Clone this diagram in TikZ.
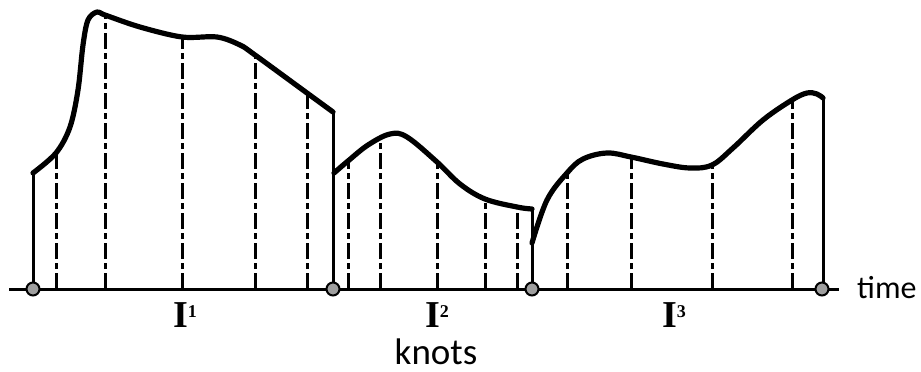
\documentclass[tikz,border=0pt]{standalone}
\usepackage{fontspec}
\setmainfont{Liberation Serif}
\newfontfamily\lblfont{Carlito}
\newfontfamily\supfont{Liberation Serif}
\newcommand{\supnum}[1]{\raisebox{10pt}{\supfont\bfseries\fontsize{18}{18}\selectfont #1}}
\begin{document}
\begin{tikzpicture}[x=1pt,y=-1pt,
  curve/.style={line width=5.2pt,line join=round,line cap=round},
  solidv/.style={line width=3pt},
  dashv/.style={line width=3pt,dash pattern=on 16pt off 4pt on 6pt off 4pt},
  knot/.style={circle,draw=black,fill=gray!75,line width=2pt,inner sep=0pt,minimum size=13pt},
  ilabel/.style={font=\fontsize{38}{38}\selectfont\bfseries,inner sep=0pt},
  word/.style={font=\lblfont\fontsize{37}{37}\selectfont,inner sep=0pt},
  word2/.style={font=\lblfont\fontsize{32}{32}\selectfont,inner sep=0pt}]
\useasboundingbox (0,0) rectangle (921,372);
% axis
\coordinate (a0) at (9,289);
\coordinate (a1) at (839,289);
\draw[solidv] (a0) -- (a1);
% dashed verticals
\foreach \x/\y in {56/153,105/15,182/37,255/55,307/93,348/162,380/140,437/162,485/199,517/207,567/173,631/157,712/165,792/100}
  \draw[dashv] (\x,289) -- (\x,\y);
% solid verticals
\draw[solidv] (33,289) -- (33,172);
\draw[solidv] (333,289) -- (333,112);
\draw[solidv] (532,289) -- (532,208);
\draw[solidv] (823,289) -- (823,97);
% curves
\draw[curve] plot[smooth,tension=0.55] coordinates {(33,173) (56,153) (70,127) (78,90) (83,45) (88,20) (97,12) (105,15) (140,27) (182,37) (217,37) (240,45) (255,55) (307,93) (333,112)};
\draw[curve] plot[smooth,tension=0.6] coordinates {(334,173) (348,161) (368,145) (390,134) (407,137) (437,162) (460,184) (485,199) (517,207) (532,209)};
\draw[curve] plot[smooth,tension=0.6] coordinates {(532,243) (547,200) (567,173) (583,159) (607,153) (631,157) (663,164) (690,168) (712,165) (733,148) (763,120) (792,100) (807,93) (817,94) (823,98)};
% knots
\node[knot] (k1) at (33,289) {};
\node[knot] (k2) at (333,289) {};
\node[knot] (k3) at (532,289) {};
\node[knot] (k4) at (822,289) {};
% labels
\node[ilabel,anchor=base] (i1) at (185,327) {I\supnum{1}};
\node[ilabel,anchor=base] (i2) at (437,327) {I\supnum{2}};
\node[ilabel,anchor=base] (i3) at (674,327) {I\supnum{3}};
\node[word,anchor=base] (kn) at (436,364) {knots};
\node[word2,anchor=base west] (tm) at (857,298) {time};
\end{tikzpicture}
\end{document}
